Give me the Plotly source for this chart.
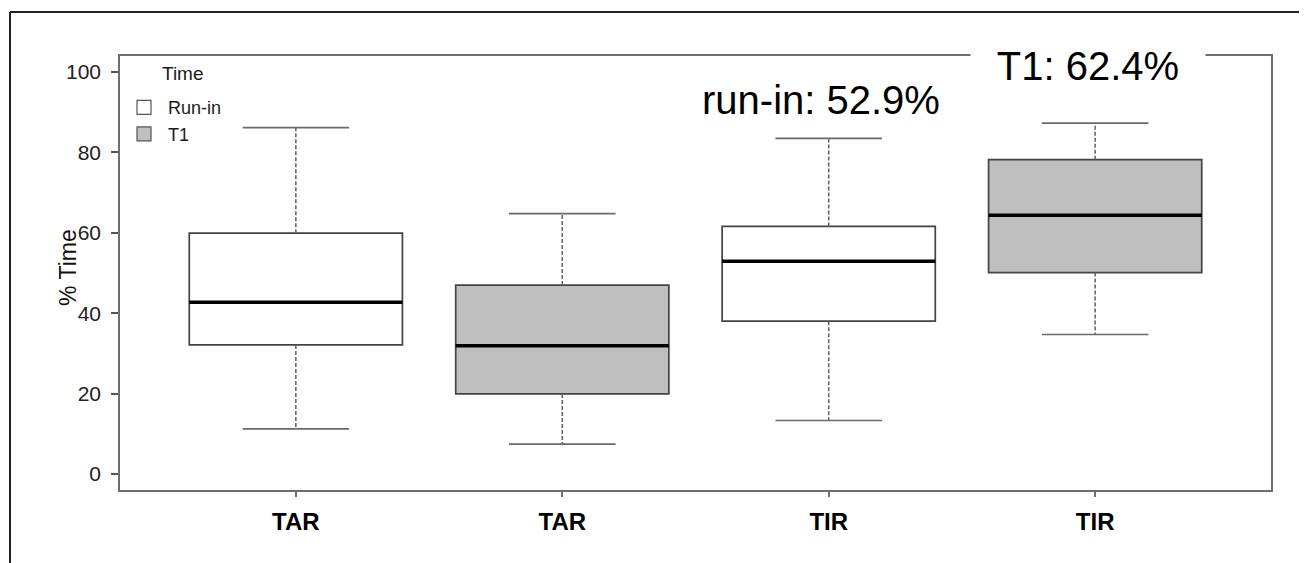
import plotly.graph_objects as go

# ---- data ----
categories = ["TAR", "TAR", "TIR", "TIR"]
groups = ["Run-in", "T1", "Run-in", "T1"]
lower_whisker = [11.2, 7.4, 13.3, 34.7]
q1_values = [32.1, 19.9, 38.0, 50.1]
median_values = [42.7, 31.9, 52.9, 64.4]
q3_values = [59.9, 47.0, 61.6, 78.2]
upper_whisker = [86.2, 64.8, 83.5, 87.3]
y_ticks = [0, 20, 40, 60, 80, 100]
annotation_texts = ["run-in: 52.9%", "T1: 62.4%"]

group_fill = {"Run-in": "#ffffff", "T1": "#bfbfbf"}
positions = list(range(1, len(categories) + 1))
box_w = 0.8
cap_w = 0.4

FONT = "Liberation Sans, Arial, sans-serif"
fig = go.Figure()

for i, xpos in enumerate(positions):
    g = groups[i]
    fig.add_trace(go.Box(
        x=[xpos], q1=[q1_values[i]], median=[median_values[i]], q3=[q3_values[i]],
        lowerfence=[q1_values[i]], upperfence=[q3_values[i]],
        width=box_w, whiskerwidth=0, fillcolor=group_fill[g],
        line=dict(color="#444444", width=1.7), showlegend=False, hoverinfo="skip",
        boxpoints=False,
    ))
    fig.add_trace(go.Scatter(
        x=[xpos, xpos, None, xpos, xpos],
        y=[q3_values[i], upper_whisker[i], None, q1_values[i], lower_whisker[i]],
        mode="lines", line=dict(color="#606060", width=1.5, dash="4px,2px"),
        showlegend=False, hoverinfo="skip",
    ))
    fig.add_trace(go.Scatter(
        x=[xpos - cap_w / 2, xpos + cap_w / 2, None, xpos - cap_w / 2, xpos + cap_w / 2],
        y=[upper_whisker[i], upper_whisker[i], None, lower_whisker[i], lower_whisker[i]],
        mode="lines", line=dict(color="#6a6a6a", width=1.7),
        showlegend=False, hoverinfo="skip",
    ))
    fig.add_trace(go.Scatter(
        x=[xpos - box_w / 2, xpos + box_w / 2],
        y=[median_values[i], median_values[i]],
        mode="lines", line=dict(color="#000000", width=3.5),
        showlegend=False, hoverinfo="skip",
    ))

for g in ["Run-in", "T1"]:
    fig.add_trace(go.Scatter(
        x=[None], y=[None], mode="markers", name=g,
        marker=dict(symbol="square", size=14, color=group_fill[g],
                    line=dict(color="#555555", width=1.2)),
    ))

# page has an 8px body margin; figure is sized/margined to compensate
fig.update_layout(
    width=1299, height=555,
    margin=dict(l=112, r=36, t=48, b=72.5),
    paper_bgcolor="white", plot_bgcolor="white",
    showlegend=True,
    legend=dict(
        x=0.0, y=0.9235, xanchor="left", yanchor="top",
        bgcolor="rgba(0,0,0,0)", borderwidth=0,
        font=dict(family=FONT, size=18, color="#1a1a1a"),
        itemwidth=38, tracegroupgap=0,
    ),
    xaxis=dict(
        range=[0.34, 4.66], tickmode="array", tickvals=positions, ticktext=categories,
        showline=True, linecolor="#6e6e6e", linewidth=1.5, mirror=True,
        ticks="outside", ticklen=5, tickcolor="#6e6e6e", tickwidth=1.5,
        showgrid=False, zeroline=False,
        tickfont=dict(family=FONT, size=24, color="#000000", weight="bold"),
        ticklabelstandoff=4,
    ),
    yaxis=dict(
        range=[-4, 104], tickmode="array", tickvals=y_ticks,
        showline=True, linecolor="#6e6e6e", linewidth=1.5, mirror=True,
        ticks="outside", ticklen=7, tickcolor="#555555", tickwidth=1.5,
        showgrid=False, zeroline=False,
        tickfont=dict(family=FONT, size=21, color="#222222"),
        ticklabelstandoff=6,
    ),
    annotations=[
        dict(text="Time", xref="paper", yref="paper", x=0.0348, y=0.9586,
             showarrow=False, xanchor="left", yanchor="middle",
             font=dict(family=FONT, size=19, color="#1a1a1a")),
        dict(text="% Time", xref="paper", yref="paper", x=-0.0452, y=0.514,
             textangle=-90, showarrow=False, xanchor="center", yanchor="middle",
             font=dict(family=FONT, size=23, color="#111111")),
        dict(text=annotation_texts[0], xref="x", yref="y", x=2.97, y=93,
             showarrow=False, xanchor="center", yanchor="middle",
             font=dict(family=FONT, size=40, color="#000000")),
        dict(text=annotation_texts[1], xref="x", yref="y", x=3.975, y=101.6,
             showarrow=False, xanchor="center", yanchor="middle", width=234,
             bgcolor="white", borderpad=0,
             font=dict(family=FONT, size=40, color="#000000")),
    ],
    shapes=[
        dict(type="line", xref="paper", yref="paper",
             x0=(10 - 120) / 1151, x1=(1320 - 120) / 1151,
             y0=(490.5 - 12) / 434.5, y1=(490.5 - 12) / 434.5,
             line=dict(color="#222222", width=2)),
        dict(type="line", xref="paper", yref="paper",
             x0=(10 - 120) / 1151, x1=(10 - 120) / 1151,
             y0=(490.5 - 12) / 434.5, y1=(490.5 - 570) / 434.5,
             line=dict(color="#222222", width=2)),
    ],
)

fig.write_html("out.html")
